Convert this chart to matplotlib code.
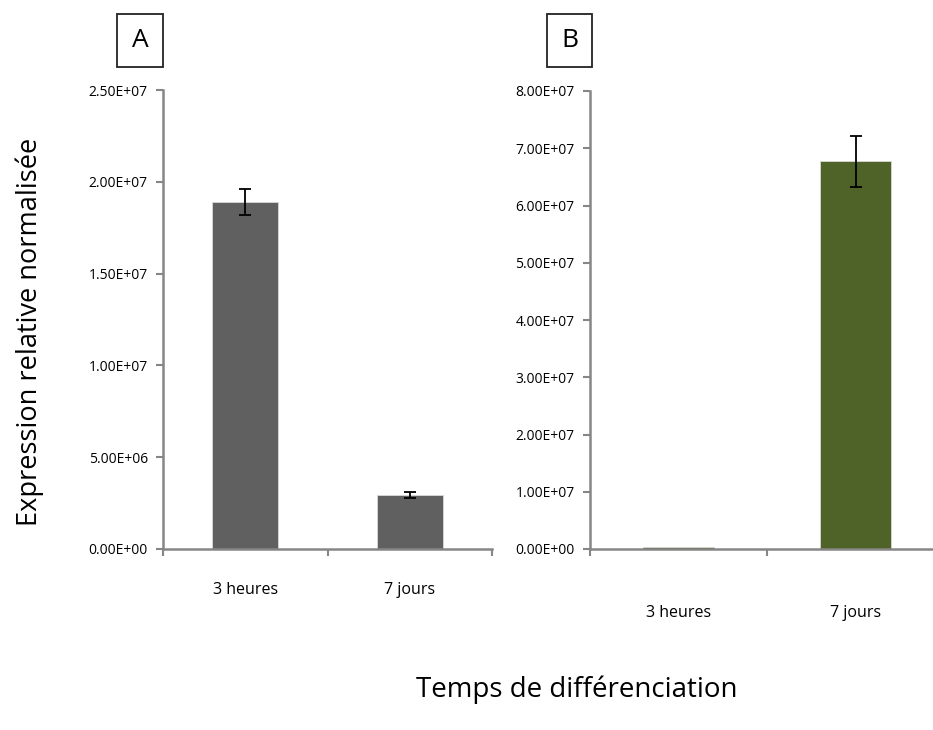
import matplotlib
matplotlib.use('Agg')
import matplotlib.pyplot as plt
from matplotlib.ticker import FuncFormatter

plt.rcParams['font.family'] = ['Open Sans', 'DejaVu Sans']

# data
categories = ['3 heures', '7 jours']
values_a = [1.89e7, 2.93e6]
errors_a = [0.07e7, 0.15e6]
values_b = [3.5e5, 6.77e7]
errors_b = [0, 0.44e7]
yticks_a = [0, 5e6, 1e7, 1.5e7, 2e7, 2.5e7]
yticks_b = [0, 1e7, 2e7, 3e7, 4e7, 5e7, 6e7, 7e7, 8e7]

W, H = 933, 730
fig = plt.figure(figsize=(W / 100, H / 100), dpi=100)

axis_grey = '#868686'
sci = FuncFormatter(lambda v, p: '{:.2E}'.format(v))


def make_panel(rect, vals, errs, yticks, color, label_pad, letter, box_rect):
    ax = fig.add_axes(rect)
    x = [0.5, 1.5]
    ax.bar(x, vals, width=0.4, color=color, edgecolor='#d9d9d9', linewidth=0.6,
           zorder=2)
    # only draw error bars that exist
    ex = [xi for xi, e in zip(x, errs) if e > 0]
    ev = [v for v, e in zip(vals, errs) if e > 0]
    ee = [e for e in errs if e > 0]
    ax.errorbar(ex, ev, yerr=ee, fmt='none', ecolor='black', elinewidth=1.3,
                capsize=4, capthick=1.3, zorder=3)
    ax.set_xlim(0, 2)
    ax.set_ylim(yticks[0], yticks[-1])
    ax.set_yticks(yticks)
    ax.yaxis.set_major_formatter(sci)
    ax.set_xticks([0, 1, 2])
    ax.set_xticklabels([])
    ax.set_xticks(x, minor=True)
    ax.set_xticklabels(categories, minor=True)
    ax.tick_params(axis='x', which='minor', length=0, pad=label_pad, labelsize=11.5)
    ax.tick_params(axis='x', which='major', length=5, width=1.5, color=axis_grey)
    ax.tick_params(axis='y', length=5, width=1.5, color=axis_grey, labelsize=10,
                   pad=6)
    for s in ['top', 'right']:
        ax.spines[s].set_visible(False)
    for s in ['left', 'bottom']:
        ax.spines[s].set_color(axis_grey)
        ax.spines[s].set_linewidth(1.8)

    # panel letter in a box
    bx, by, bw, bh = box_rect
    fig.patches.append(plt.Rectangle((bx / W, 1 - (by + bh) / H), bw / W, bh / H,
                                     transform=fig.transFigure, fill=False,
                                     edgecolor='#222222', linewidth=1.3))
    fig.text((bx + bw / 2) / W, 1 - (by + bh / 2) / H, letter, ha='center',
             va='center', fontsize=19)
    return ax


make_panel([163 / W, (H - 549) / H, 329 / W, 459 / H], values_a, errors_a,
           yticks_a, '#606060', 24, 'A', (117, 14, 46, 53))
make_panel([590 / W, (H - 549) / H, 354 / W, 458 / H], values_b, errors_b,
           yticks_b, '#4f6228', 40, 'B', (547, 14, 45, 53))

fig.text(30 / W, 1 - 332 / H, 'Expression relative normalisée', rotation=90,
         ha='center', va='center', fontsize=19.5)
fig.text(577 / W, 1 - 690 / H, 'Temps de différenciation', ha='center',
         va='center', fontsize=20)

fig.savefig('out.png', dpi=100)
